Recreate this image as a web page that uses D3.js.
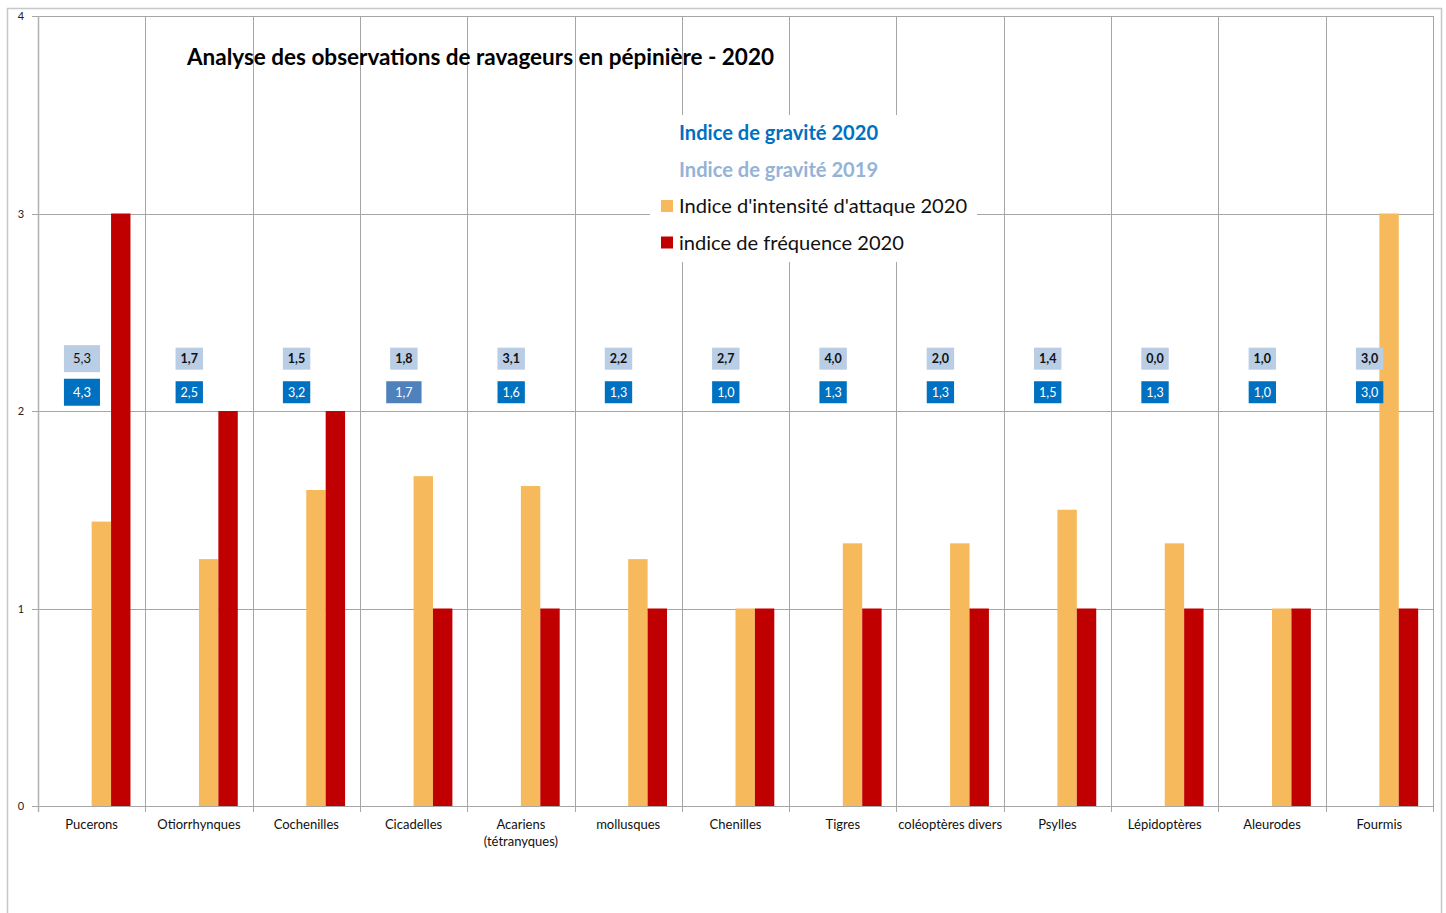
<!DOCTYPE html>
<html>
<head>
<meta charset="utf-8">
<script src="https://cdn.jsdelivr.net/npm/d3@7"></script>
<style>
  html, body { margin: 0; padding: 0; background: #fff; }
  svg { display: block; font-family: Lato, "Open Sans", sans-serif; }
</style>
</head>
<body>
<svg id="chart" width="1446" height="913"></svg>
<script>
// Ravageurs observés en pépinière
const categories = ["Pucerons", "Otiorrhynques", "Cochenilles", "Cicadelles", "Acariens\n(tétranyques)",
  "mollusques", "Chenilles", "Tigres", "coléoptères divers", "Psylles", "Lépidoptères", "Aleurodes", "Fourmis"];

// Indices (sur une échelle de 0 à 4 pour les barres)
const gravite2020 = [4.3, 2.5, 3.2, 1.7, 1.6, 1.3, 1.0, 1.3, 1.3, 1.5, 1.3, 1.0, 3.0];
const gravite2019 = [5.3, 1.7, 1.5, 1.8, 3.1, 2.2, 2.7, 4.0, 2.0, 1.4, 0.0, 1.0, 3.0];
const intensite2020 = [1.44, 1.25, 1.6, 1.67, 1.62, 1.25, 1.0, 1.33, 1.33, 1.5, 1.33, 1.0, 3.0];
const frequence2020 = [3, 2, 2, 1, 1, 1, 1, 1, 1, 1, 1, 1, 1];

const yTicks = [0, 1, 2, 3, 4];
const seriesKeys = ["g2020", "g2019", "intensite", "frequence"];
const seriesNames = ["Indice de gravité 2020", "Indice de gravité 2019",
  "Indice d'intensité d'attaque 2020", "indice de fréquence 2020"];

const fmt = v => v.toFixed(1).replace(".", ",");

const svg = d3.select("#chart");
const grid = "#a6a6a6";

// cadre extérieur
svg.append("rect").attr("x", 7.5).attr("y", 8.5).attr("width", 1434).attr("height", 930)
  .attr("fill", "none").attr("stroke", "#c8c8c8").attr("stroke-width", 1.5);

const plot = { left: 38, right: 1433, top: 16, bottom: 806 };

const x = d3.scaleBand().domain(categories).range([plot.left, plot.right]).padding(0);
const xs = d3.scaleBand().domain(seriesKeys).range([0, x.bandwidth()])
  .paddingInner(0).paddingOuter(0.765);
const y = d3.scaleLinear().domain([0, 4]).range([plot.bottom, plot.top]);

// quadrillage horizontal
svg.append("g").selectAll("line").data(yTicks).join("line")
  .attr("x1", plot.left - 6).attr("x2", plot.right)
  .attr("y1", d => Math.round(y(d)) + 0.5).attr("y2", d => Math.round(y(d)) + 0.5)
  .attr("stroke", grid).attr("stroke-width", 1);

// quadrillage vertical entre catégories
const bounds = categories.map(c => x(c)).concat([plot.right]);
svg.append("g").selectAll("line").data(bounds).join("line")
  .attr("x1", d => Math.round(d) + 0.5).attr("x2", d => Math.round(d) + 0.5)
  .attr("y1", plot.top).attr("y2", plot.bottom + 6)
  .attr("stroke", grid).attr("stroke-width", 1);

// axe vertical
svg.append("line").attr("x1", plot.left + 0.5).attr("x2", plot.left + 0.5)
  .attr("y1", plot.top).attr("y2", plot.bottom + 6).attr("stroke", "#b0b0b0").attr("stroke-width", 1.5);

// libellés de l'axe des ordonnées
svg.append("g").selectAll("text").data(yTicks).join("text")
  .attr("x", 21).attr("y", d => y(d) + 4)
  .attr("text-anchor", "middle").attr("font-size", 11).attr("fill", "#222")
  .text(d => d);

// barres
const barSeries = [
  { key: "intensite", values: intensite2020, color: "#f6b95b" },
  { key: "frequence", values: frequence2020, color: "#c00000" }
];
barSeries.forEach(s => {
  svg.append("g").selectAll("rect").data(categories).join("rect")
    .attr("x", (c) => x(c) + xs(s.key))
    .attr("width", xs.bandwidth())
    .attr("y", (c, i) => y(s.values[i]))
    .attr("height", (c, i) => y(0) - y(s.values[i]))
    .attr("fill", s.color);
});

// étiquettes des indices de gravité
function gravityLabels(values, rowValue, fill, textFill, bold) {
  const g = svg.append("g");
  categories.forEach((c, i) => {
    const cx = x(c) + xs("g2019") + xs.bandwidth() / 2;
    const cy = y(rowValue);
    const big = i === 0;
    const lbl = g.append("g");
    const t = lbl.append("text")
      .attr("x", cx).attr("y", cy + 4.5)
      .attr("text-anchor", "middle")
      .attr("font-size", big ? 13 : 12.5)
      .attr("font-weight", bold && !big ? "bold" : "normal")
      .attr("fill", textFill)
      .text(fmt(values[i]));
    const w = t.node().getComputedTextLength();
    const padX = big ? 9 : 5, h = big ? 27 : 22;
    const boxW = (i === 3 && !bold) ? w + 18 : w + padX * 2;
    lbl.insert("rect", "text")
      .attr("x", cx - boxW / 2).attr("y", cy - h / 2)
      .attr("width", boxW).attr("height", h)
      .attr("fill", (i === 3 && !bold) ? "#4f81bd" : fill);
  });
}
gravityLabels(gravite2019, 2.265, "#b9cde5", "#111", true);
gravityLabels(gravite2020, 2.095, "#0070c0", "#fff", false);

// titre
svg.append("text").attr("x", 187).attr("y", 65)
  .attr("font-size", 22.5).attr("font-weight", "bold").attr("fill", "#000")
  .text("Analyse des observations de ravageurs en pépinière - 2020");

// légende
const lg = svg.append("g");
lg.append("rect").attr("x", 650).attr("y", 115).attr("width", 327).attr("height", 147).attr("fill", "#fff");
const legendStyles = [
  { color: "#0070c0", weight: "bold", swatch: null },
  { color: "#95b3d7", weight: "bold", swatch: null },
  { color: "#111", weight: "normal", swatch: "#f6b95b" },
  { color: "#111", weight: "normal", swatch: "#c00000" }
];
seriesNames.forEach((name, i) => {
  const ly = 133 + i * 36.5;
  const st = legendStyles[i];
  if (st.swatch) {
    lg.append("rect").attr("x", 661).attr("y", ly - 6).attr("width", 12).attr("height", 12).attr("fill", st.swatch);
  }
  lg.append("text").attr("x", 679).attr("y", ly + 7)
    .attr("font-size", 20.1).attr("font-weight", st.weight).attr("fill", st.color)
    .text(name);
});

// libellés des catégories
svg.append("g").selectAll("text").data(categories).join("text")
  .attr("x", c => x(c) + x.bandwidth() / 2)
  .attr("y", 829)
  .attr("text-anchor", "middle").attr("font-size", 13).attr("fill", "#111")
  .each(function (c) {
    const parts = c.split("\n");
    parts.forEach((p, k) => {
      d3.select(this).append("tspan").attr("x", x(c) + x.bandwidth() / 2)
        .attr("dy", k === 0 ? 0 : 17).text(p);
    });
  });
</script>
</body>
</html>
